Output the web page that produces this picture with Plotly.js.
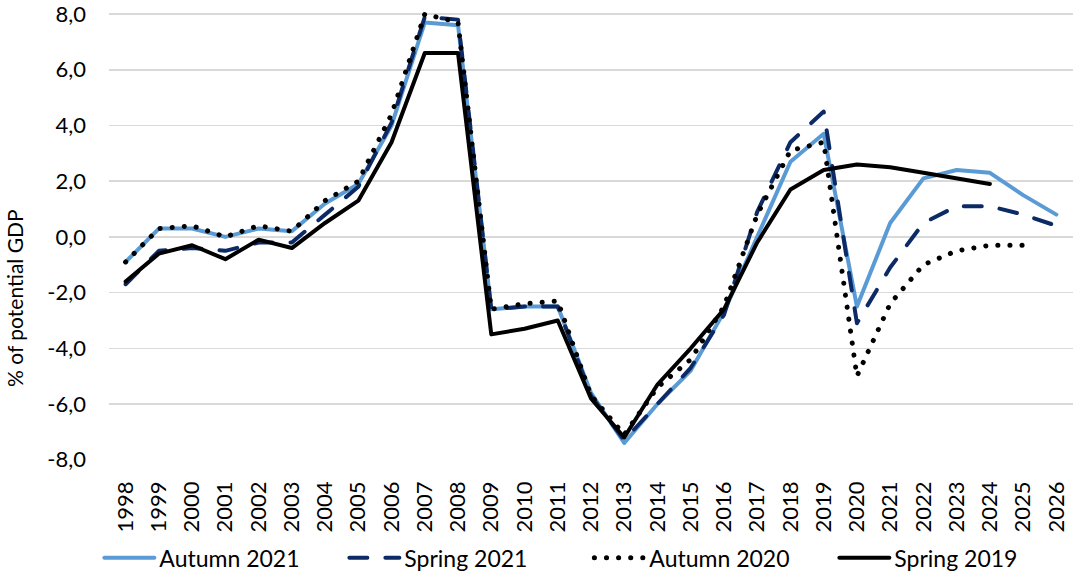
<!DOCTYPE html>
<html>
<head>
<meta charset="utf-8">
<script src="https://cdn.plot.ly/plotly-3.0.1.min.js"></script>
<style>
  body { margin: 0; background: #fff; }
  #chart { width: 1073px; height: 578px; }
  .scatterlayer .js-line, .legend .js-line { stroke-linecap: round; stroke-linejoin: round; }
</style>
</head>
<body>
<div id="chart"></div>
<script>
var years = ['1998','1999','2000','2001','2002','2003','2004','2005','2006','2007',
             '2008','2009','2010','2011','2012','2013','2014','2015','2016','2017',
             '2018','2019','2020','2021','2022','2023','2024','2025','2026'];

var autumn2021 = [-0.9, 0.3, 0.3, 0.0, 0.3, 0.2, 1.2, 1.9, 4.0, 7.7,
                  7.6, -2.6, -2.5, -2.5, -5.6, -7.4, -6.0, -4.8, -2.7, 0.0,
                  2.7, 3.7, -2.5, 0.5, 2.1, 2.4, 2.3, 1.5, 0.8];

var spring2021 = [-1.7, -0.5, -0.4, -0.5, -0.2, -0.2, 0.8, 1.8, 4.1, 7.9,
                  7.8, -2.6, -2.5, -2.5, -5.7, -7.3, -6.0, -4.7, -2.8, 0.9,
                  3.4, 4.5, -3.1, -1.1, 0.5, 1.1, 1.1, 0.8, 0.4];

var autumn2020 = [-0.9, 0.3, 0.4, 0.0, 0.4, 0.2, 1.3, 2.0, 4.4, 8.0,
                  7.7, -2.6, -2.4, -2.3, -5.7, -7.1, -5.4, -4.4, -2.5, 0.8,
                  3.1, 3.4, -5.0, -2.4, -1.0, -0.5, -0.3, -0.3, null];

var spring2019 = [-1.6, -0.6, -0.3, -0.8, -0.1, -0.4, 0.5, 1.3, 3.4, 6.6,
                  6.6, -3.5, -3.3, -3.0, -5.8, -7.2, -5.3, -4.0, -2.6, -0.2,
                  1.7, 2.4, 2.6, 2.5, 2.3, 2.1, 1.9, null, null];

var yTicks = [-8, -6, -4, -2, 0, 2, 4, 6, 8];
// Excel style labels: comma decimal, plain hyphen for minus
var yTickText = yTicks.map(function (v) { return v.toFixed(1).replace('.', ','); });

var font = 'Lato, "Open Sans", sans-serif';

var traces = [
  {
    x: years, y: autumn2021, mode: 'lines', name: 'Autumn 2021',
    line: { color: '#5b9bd5', width: 4 }
  },
  {
    x: years, y: spring2021, mode: 'lines', name: 'Spring 2021',
    line: { color: '#0c2a66', width: 4, dash: '18px,18px' }
  },
  {
    x: years, y: autumn2020, mode: 'lines', name: 'Autumn 2020',
    line: { color: '#000000', width: 5, dash: '0.1px,12px' }
  },
  {
    x: years, y: spring2019, mode: 'lines', name: 'Spring 2019',
    line: { color: '#000000', width: 4 }
  }
];

var layout = {
  width: 1073,
  height: 578,
  margin: { l: 109, r: 0, t: 11, b: 118, autoexpand: false },
  paper_bgcolor: '#ffffff',
  plot_bgcolor: '#ffffff',
  separators: ',.',
  font: { family: font, size: 22, color: '#000000' },
  showlegend: true,
  xaxis: {
    type: 'category',
    range: [-0.5, 28.5],
    tickangle: -90,
    showgrid: false,
    zeroline: false,
    showline: false,
    ticks: '',
    automargin: false,
    ticklabelstandoff: 16,
    tickfont: { family: font, size: 22 }
  },
  yaxis: {
    range: [-8.01, 8.11],
    tickvals: yTicks,
    ticktext: yTickText,
    showgrid: true,
    gridcolor: '#d9d9d9',
    gridwidth: 1.5,
    zeroline: false,
    showline: false,
    ticks: '',
    automargin: false,
    ticklabeloverflow: 'allow',
    ticklabelstandoff: 22,
    tickfont: { family: font, size: 22 }
  },
  legend: {
    orientation: 'h',
    x: -0.01,
    xanchor: 'left',
    y: -0.17,
    yanchor: 'top',
    entrywidth: 180,
    entrywidthmode: 'pixels',
    font: { family: font, size: 23 },
    itemwidth: 50
  },
  annotations: [
    {
      text: '% of potential GDP',
      textangle: -90,
      xref: 'paper', yref: 'paper',
      x: -0.098, y: 0.36,
      xanchor: 'center', yanchor: 'middle',
      showarrow: false,
      font: { family: font, size: 21 }
    }
  ]
};

Plotly.newPlot('chart', traces, layout, { displayModeBar: false, staticPlot: true });
</script>
</body>
</html>
